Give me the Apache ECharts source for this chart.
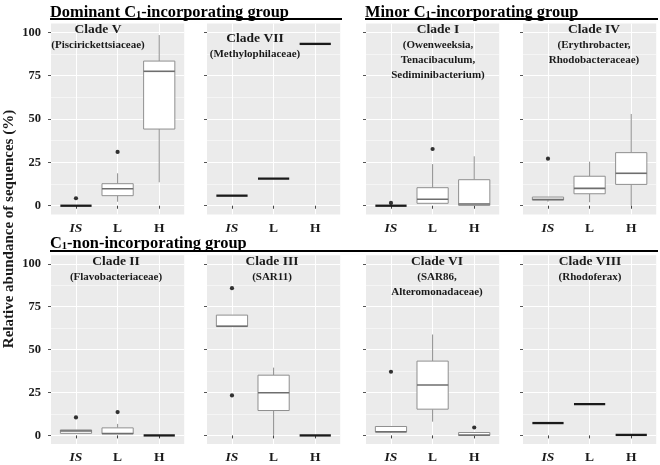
<!DOCTYPE html>
<html><head><meta charset="utf-8">
<script src="https://cdn.jsdelivr.net/npm/echarts@6/dist/echarts.min.js"></script>
<style>html,body{margin:0;padding:0;background:#fff}#c{width:660px;height:465px}</style>
</head><body><div id="c"></div>
<script>
const categories = ['IS', 'L', 'H'];
const yTicks = [0, 25, 50, 75, 100];
const yMinorTicks = [12.5, 37.5, 62.5, 87.5];

// box stats per category: [lower whisker, Q1, median, Q3, upper whisker]
const cladeV    = [[0,0,0,0,0], [2.3,5.8,9.8,12.7,18.7], [13.5,44.2,77.5,83.4,98.4]];
const cladeVOut = [[0,4.3], [1,31]];
const cladeVII    = [[5.8,5.8,5.8,5.8,5.8], [15.6,15.6,15.6,15.6,15.6], [93.3,93.3,93.3,93.3,93.3]];
const cladeVIIOut = [];
const cladeI    = [[0,0,0,0,0], [1.4,1.4,3.7,10.4,24], [0,0.2,1.0,15,28.5]];
const cladeIOut = [[0,1.6], [1,32.7]];
const cladeIV    = [[2.3,3.3,3.6,5.0,5.0], [2.0,6.9,10,17,25.4], [0,12.3,18.7,30.6,52.9]];
const cladeIVOut = [[0,27.1]];
const cladeII    = [[1.2,1.2,2.6,3.2,3.2], [0.9,0.9,1.1,4.4,6.7], [0,0,0,0,0]];
const cladeIIOut = [[0,10.5], [1,13.6]];
const cladeIII    = [[63.6,63.6,63.6,70.1,70.1], [0.3,14.5,24.9,35.1,39.5], [0,0,0,0,0]];
const cladeIIIOut = [[0,85.8], [0,23.3]];
const cladeVI    = [[1.5,2.1,2.1,5.2,5.2], [8.0,15.3,29.4,43.3,58.8], [0,0,0.2,1.7,1.7]];
const cladeVIOut = [[0,37.1], [2,4.6]];
const cladeVIII    = [[7.2,7.2,7.2,7.2,7.2], [18.2,18.2,18.2,18.2,18.2], [0.3,0.3,0.3,0.3,0.3]];
const cladeVIIIOut = [];

const panelTitles = [
  ['Clade V', '(Piscirickettsiaceae)'],
  ['Clade VII', '(Methylophilaceae)'],
  ['Clade I', '(Owenweeksia,', 'Tenacibaculum,', 'Sediminibacterium)'],
  ['Clade IV', '(Erythrobacter,', 'Rhodobacteraceae)'],
  ['Clade II', '(Flavobacteriaceae)'],
  ['Clade III', '(SAR11)'],
  ['Clade VI', '(SAR86,', 'Alteromonadaceae)'],
  ['Clade VIII', '(Rhodoferax)']
];
const boxes = [cladeV, cladeVII, cladeI, cladeIV, cladeII, cladeIII, cladeVI, cladeVIII];
const outs = [cladeVOut, cladeVIIOut, cladeIOut, cladeIVOut, cladeIIOut, cladeIIIOut, cladeVIOut, cladeVIIIOut];

const FONT = '"Liberation Serif", "Times New Roman", serif';
const colLeft = [51, 207, 366, 523];
const rowTop = [23.6, 255.2];
const PW = 133.2, PH = 190.8;
// title anchor positions (x center, y center of first line)
const titlePos = [[98,30],[255,39],[438,30],[594,30],[116,262],[272,262],[437,262],[590,262]];

const grids = [], xAxes = [], yAxes = [], series = [], graphics = [];
const catVals = categories.map((c, i) => i + 1);

function renderBox(params, api) {
  const x = api.value(0);
  const lo = api.value(1), q1 = api.value(2), md = api.value(3), q3 = api.value(4), hi = api.value(5);
  const cx = api.coord([x, md])[0];
  const yLo = api.coord([x, lo])[1], yQ1 = api.coord([x, q1])[1], yMd = api.coord([x, md])[1];
  const yQ3 = api.coord([x, q3])[1], yHi = api.coord([x, hi])[1];
  const half = api.size([0.75, 0])[0] / 2;
  const gray = '#8f8f8f';
  const ch = [];
  if (q1 === q3) {
    ch.push({type: 'line', shape: {x1: cx - half, y1: yMd, x2: cx + half, y2: yMd}, style: {stroke: '#1a1a1a', lineWidth: 2.3}});
  } else {
    if (hi > q3) ch.push({type: 'line', shape: {x1: cx, y1: yQ3, x2: cx, y2: yHi}, style: {stroke: gray, lineWidth: 1}});
    if (lo < q1) ch.push({type: 'line', shape: {x1: cx, y1: yQ1, x2: cx, y2: yLo}, style: {stroke: gray, lineWidth: 1}});
    ch.push({type: 'rect', shape: {x: cx - half, y: yQ3, width: 2 * half, height: yQ1 - yQ3}, style: {fill: '#fff', stroke: gray, lineWidth: 1}});
    ch.push({type: 'line', shape: {x1: cx - half, y1: yMd, x2: cx + half, y2: yMd}, style: {stroke: '#6e6e6e', lineWidth: 1.6}});
  }
  return {type: 'group', children: ch};
}

for (let i = 0; i < 8; i++) {
  const col = i % 4, row = Math.floor(i / 4);
  grids.push({left: colLeft[col], top: rowTop[row], width: PW, height: PH, show: true, backgroundColor: '#EBEBEB', borderWidth: 0});
  xAxes.push({
    gridIndex: i, type: 'value', min: 0.4, max: 3.6,
    axisLine: {show: false},
    axisTick: {show: true, customValues: catVals, length: 3, lineStyle: {color: '#444', width: 1}},
    axisLabel: {
      customValues: catVals, margin: 7,
      formatter: v => { const c = categories[Math.round(v) - 1]; return c === 'IS' ? '{i|' + c + '}' : '{b|' + c + '}'; },
      rich: {
        i: {fontFamily: FONT, fontWeight: 'bold', fontStyle: 'italic', fontSize: 13.5, color: '#1a1a1a'},
        b: {fontFamily: FONT, fontWeight: 'bold', fontSize: 13.5, color: '#1a1a1a'}
      }
    },
    splitLine: {show: true, lineStyle: {color: '#ffffff', width: 1.1}}
  });
  yAxes.push({
    gridIndex: i, type: 'value', min: -5, max: 105,
    axisLine: {show: false},
    axisTick: {show: true, customValues: yTicks, length: 3, lineStyle: {color: '#555', width: 1}},
    axisLabel: {show: col === 0, customValues: yTicks, margin: 10, fontFamily: FONT, fontWeight: 'bold', fontSize: 12.5, color: '#1a1a1a'},
    splitLine: {show: true, lineStyle: {color: '#ffffff', width: 1.1}}
  });
  yAxes.push({
    gridIndex: i, type: 'value', min: -5, max: 105,
    axisLine: {show: false},
    axisTick: {show: false, customValues: yMinorTicks},
    axisLabel: {show: false},
    splitLine: {show: true, lineStyle: {color: '#ffffff', width: 0.5}}
  });
  series.push({
    type: 'custom', xAxisIndex: i, yAxisIndex: 2 * i,
    renderItem: renderBox,
    encode: {x: 0, y: [1, 2, 3, 4, 5]},
    data: boxes[i].map((b, k) => [k + 1].concat(b)),
    z: 3
  });
  series.push({
    type: 'scatter', xAxisIndex: i, yAxisIndex: 2 * i,
    symbolSize: 4.2, itemStyle: {color: '#000'},
    data: outs[i].map(o => [o[0] + 1, o[1]]),
    z: 4
  });
  const lines = panelTitles[i];
  let txt = '{t|' + lines[0] + '}';
  for (let k = 1; k < lines.length; k++) txt += '\n{s|' + lines[k] + '}';
  graphics.push({
    type: 'text', x: titlePos[i][0], y: titlePos[i][1] - 7.5, z: 10,
    style: {
      text: txt, align: 'center', verticalAlign: 'top', fill: '#1a1a1a',
      rich: {
        t: {fontFamily: FONT, fontWeight: 'bold', fontSize: 13.5, lineHeight: 15, fill: '#1a1a1a', align: 'center'},
        s: {fontFamily: FONT, fontWeight: 'bold', fontSize: 11, lineHeight: 15, fill: '#1a1a1a', align: 'center'}
      }
    }
  });
}

function groupTitle(x, y, pre, post) {
  return {
    type: 'text', x: x, y: y, z: 10,
    style: {
      text: '{a|' + pre + '}{s|1}{a|' + post + '}', align: 'left', verticalAlign: 'bottom', fill: '#000',
      rich: {
        a: {fontFamily: FONT, fontWeight: 'bold', fontSize: 16.4, lineHeight: 18, verticalAlign: 'bottom', fill: '#000'},
        s: {fontFamily: FONT, fontWeight: 'bold', fontSize: 10.5, lineHeight: 12, verticalAlign: 'bottom', fill: '#000'}
      }
    }
  };
}
graphics.push(groupTitle(50, 20.5, 'Dominant C', '-incorporating group'));
graphics.push(groupTitle(365, 20.5, 'Minor C', '-incorporating group'));
graphics.push(groupTitle(50, 252, 'C', '-non-incorporating group'));
graphics.push({type: 'line', z: 11, shape: {x1: 50, y1: 19, x2: 342, y2: 19}, style: {stroke: '#000', lineWidth: 2}});
graphics.push({type: 'line', z: 11, shape: {x1: 365, y1: 19, x2: 658, y2: 19}, style: {stroke: '#000', lineWidth: 2}});
graphics.push({type: 'line', z: 11, shape: {x1: 50, y1: 251, x2: 658, y2: 251}, style: {stroke: '#000', lineWidth: 2}});
graphics.push({
  type: 'text', x: 9, y: 229, rotation: Math.PI / 2, z: 10,
  style: {text: 'Relative abundance of sequences (%)', align: 'center', verticalAlign: 'middle',
          fontFamily: FONT, fontWeight: 'bold', fontSize: 15, fill: '#1a1a1a'}
});

const chart = echarts.init(document.getElementById('c'), null, {renderer: 'canvas'});
chart.setOption({
  animation: false,
  backgroundColor: '#ffffff',
  grid: grids, xAxis: xAxes, yAxis: yAxes, series: series, graphic: graphics
});
</script>
</body></html>
